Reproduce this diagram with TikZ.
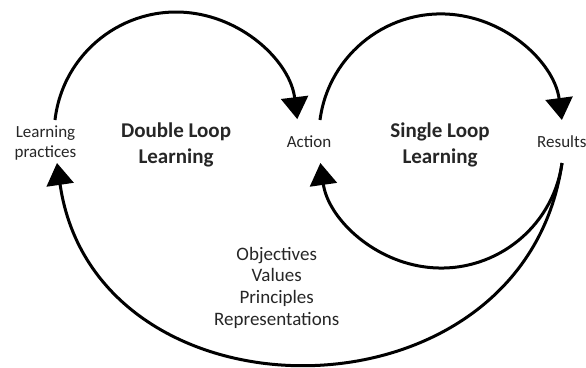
\documentclass[tikz,border=0pt]{standalone}
\usepackage{fontspec}
\setmainfont{Carlito}
\usetikzlibrary{arrows.meta}
\begin{document}
\begin{tikzpicture}[x=1pt,y=1pt,
  loopline/.style={line width=3pt, black, -{Triangle[length=22pt,width=27pt]}},
  smalllbl/.style={font=\fontsize{17}{20}\selectfont, align=center, inner sep=0pt, anchor=base, text=black!85},
  boldlbl/.style={font=\fontsize{21}{26}\selectfont\bfseries, align=center, inner sep=0pt, anchor=base, text=black!85},
  listlbl/.style={font=\fontsize{19}{21.6}\selectfont, align=center, inner sep=0pt, anchor=base, text=black!85}]
\useasboundingbox (0,0) rectangle (586,-367);
% labels (base anchor = baseline of last line)
\node[smalllbl] (lp) at (45.5,-157) {Learning\\practices};
\node[boldlbl] (dll) at (176,-163) {Double Loop\\Learning};
\node[smalllbl] (act) at (309,-147) {Action};
\node[boldlbl] (sll) at (440,-163) {Single Loop\\Learning};
\node[smalllbl, anchor=base west] (res) at (537,-147) {Results};
\node[listlbl] (obj) at (276.7,-325) {Objectives\\Values\\Principles\\Representations};
% connector end points
\coordinate (lpTop) at (55,-120);
\coordinate (actTop) at (320,-120);
\coordinate (resBot) at (562,-163);
\coordinate (lpBot) at (57,-163);
% double loop: practices -> action
\draw[loopline] (lpTop) arc[start angle=173.4, end angle=7, radius=122];
% single loop: action -> results
\draw[loopline] (actTop) arc[start angle=172.5, end angle=7.5, radius=122];
% single loop: results -> action
\draw[loopline] (resBot) arc[start angle=-8, end angle=-172, radius=122];
% double loop: results -> practices
\draw[loopline] (resBot) .. controls (523.5,-429.7) and (95.5,-429.7) .. (lpBot);
\end{tikzpicture}
\end{document}
